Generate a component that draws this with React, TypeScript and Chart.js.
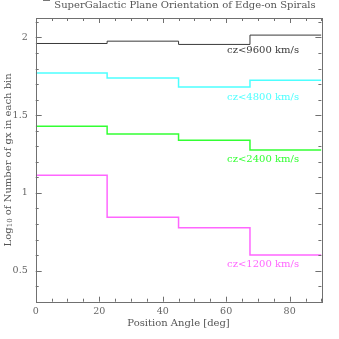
import React, { useEffect, useRef } from "react";
import { Chart, registerables } from "chart.js";
Chart.register(...registerables);

const binEdges = [0, 22.5, 45, 67.5, 90];
const cz9600 = [1.961, 1.976, 1.955, 2.015];
const cz4800 = [1.771, 1.739, 1.681, 1.724];
const cz2400 = [1.428, 1.379, 1.338, 1.276];
const cz1200 = [1.113, 0.843, 0.775, 0.6];
const seriesValues = [cz9600, cz4800, cz2400, cz1200];
const seriesLabels = ["cz<9600 km/s", "cz<4800 km/s", "cz<2400 km/s", "cz<1200 km/s"];
const seriesColors = ["#3a3a3a", "#4dffff", "#33ff33", "#ff66ff"];
const labelX = [60.3, 60.3, 60.3, 60.3];
const labelY = [1.916, 1.612, 1.216, 0.539];
const xTicks = [0, 20, 40, 60, 80];
const yTicks = [0.5, 1, 1.5, 2];
const titleText = "SuperGalactic Plane Orientation of Edge-on Spirals";
const xTitle = "Position Angle [deg]";
const yTitleParts = ["Log", "10", " of Number of gx in each bin"];

const FONT = "'DejaVu Serif', serif";

const decorPlugin = {
  id: "decor",
  afterDatasetsDraw(chart: any) {
    const { ctx, chartArea: a, scales } = chart;
    const xs = scales.x;
    const ys = scales.y;
    ctx.save();
    // labels
    ctx.font = `10px ${FONT}`;
    ctx.textAlign = "left";
    ctx.textBaseline = "middle";
    seriesLabels.forEach((t, i) => {
      ctx.fillStyle = seriesColors[i];
      ctx.fillText(t, xs.getPixelForValue(labelX[i]), ys.getPixelForValue(labelY[i]));
    });
    // frame
    ctx.strokeStyle = "#707070";
    ctx.lineWidth = 1;
    ctx.strokeRect(Math.round(a.left) + 0.5, Math.round(a.top) + 0.5, Math.round(a.right - a.left), Math.round(a.bottom - a.top));
    ctx.beginPath();
    for (let v = 0; v <= 90; v += 5) {
      const px = Math.round(xs.getPixelForValue(v)) + 0.5;
      const len = v % 20 === 0 ? 5 : 3;
      ctx.moveTo(px, a.bottom);
      ctx.lineTo(px, a.bottom - len);
      ctx.moveTo(px, a.top);
      ctx.lineTo(px, a.top + len);
    }
    for (let k = 4; k <= 21; k++) {
      const v = k / 10;
      const py = Math.round(ys.getPixelForValue(v)) + 0.5;
      const len = k % 5 === 0 ? 6 : 3;
      ctx.moveTo(a.left, py);
      ctx.lineTo(a.left + len, py);
      ctx.moveTo(a.right, py);
      ctx.lineTo(a.right - len, py);
    }
    ctx.stroke();
    // title
    ctx.fillStyle = "#555";
    ctx.font = `10px ${FONT}`;
    ctx.textAlign = "center";
    ctx.textBaseline = "middle";
    ctx.fillText(titleText, 185, 5);
    ctx.strokeStyle = "#777";
    ctx.beginPath();
    ctx.moveTo(43, 0.5);
    ctx.lineTo(50, 0.5);
    ctx.stroke();
    // x title
    ctx.fillText(xTitle, (a.left + a.right) / 2, 323.5);
    // y title (rotated, with subscript)
    ctx.save();
    ctx.translate(8, (a.top + a.bottom) / 2);
    ctx.rotate(-Math.PI / 2);
    ctx.textAlign = "left";
    const big = `10px ${FONT}`;
    const small = `7px ${FONT}`;
    ctx.font = big;
    const w0 = ctx.measureText(yTitleParts[0]).width;
    const w2 = ctx.measureText(yTitleParts[2]).width;
    ctx.font = small;
    const w1 = ctx.measureText(yTitleParts[1]).width;
    let x = -(w0 + w1 + w2) / 2;
    ctx.font = big;
    ctx.fillText(yTitleParts[0], x, 0);
    x += w0;
    ctx.font = small;
    ctx.fillText(yTitleParts[1], x, 2.5);
    x += w1;
    ctx.font = big;
    ctx.fillText(yTitleParts[2], x, 0);
    ctx.restore();
    ctx.restore();
  },
};

export default function App() {
  const ref = useRef<HTMLCanvasElement>(null);
  useEffect(() => {
    const datasets = seriesValues.map((vals, i) => ({
      label: seriesLabels[i],
      data: binEdges.map((x, j) => ({ x, y: vals[Math.min(j, vals.length - 1)] })),
      borderColor: seriesColors[i],
      borderWidth: i === 0 ? 1 : 1.5,
      pointRadius: 0,
      stepped: "before" as const,
      fill: false,
    }));
    const chart = new Chart(ref.current!, {
      type: "line",
      data: { datasets },
      options: {
        animation: false,
        responsive: false,
        layout: { padding: { top: 18, right: 17.6, left: 0, bottom: 0 } },
        plugins: { legend: { display: false }, tooltip: { enabled: false }, title: { display: false } },
        scales: {
          x: {
            type: "linear",
            min: 0,
            max: 90,
            afterBuildTicks: (s: any) => { s.ticks = xTicks.map((v) => ({ value: v })); },
            afterFit: (s: any) => { s.height = 37.3; },
            grid: { display: false, drawTicks: false },
            border: { display: false },
            ticks: { color: "#666", font: { family: FONT, size: 9.5 }, padding: 4, maxRotation: 0 },
          },
          y: {
            type: "linear",
            min: 0.3,
            max: 2.125,
            afterBuildTicks: (s: any) => { s.ticks = yTicks.map((v) => ({ value: v })); },
            afterFit: (s: any) => { s.width = 35.7; },
            grid: { display: false, drawTicks: false },
            border: { display: false },
            ticks: { color: "#666", font: { family: FONT, size: 9.5 }, padding: 8, callback: (v: any) => String(v) },
          },
        },
      },
      plugins: [decorPlugin],
    });
    return () => chart.destroy();
  }, []);
  return (
    <div style={{ position: "fixed", left: 0, top: 0, width: 339, height: 339, background: "#fff" }}>
      <canvas ref={ref} width={339} height={339} style={{ display: "block" }} />
    </div>
  );
}
